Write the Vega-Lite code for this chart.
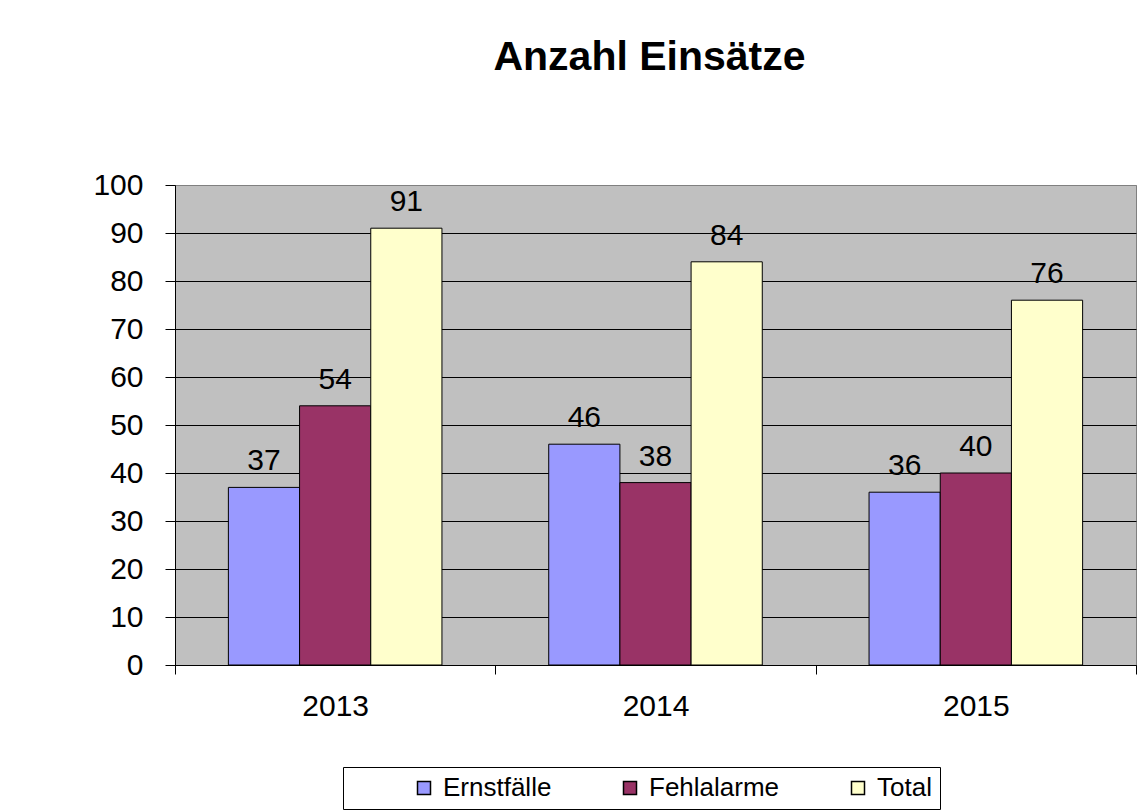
{
  "$schema": "https://vega.github.io/schema/vega-lite/v6.json",
  "autosize": {"type": "none"},
  "padding": {"left": 175, "top": 185, "right": 6, "bottom": 147},
  "width": 961,
  "height": 480,
  "background": "white",
  "title": {
    "text": "Anzahl Einsätze",
    "font": "Liberation Sans",
    "fontSize": 41,
    "fontWeight": "bold",
    "color": "black",
    "anchor": "middle",
    "frame": "group",
    "offset": 91,
    "dx": -6
  },
  "data": {
    "values": [
      {"Jahr": "2013", "Serie": "Ernstfälle", "Anzahl": 37},
      {"Jahr": "2013", "Serie": "Fehlalarme", "Anzahl": 54},
      {"Jahr": "2013", "Serie": "Total", "Anzahl": 91},
      {"Jahr": "2014", "Serie": "Ernstfälle", "Anzahl": 46},
      {"Jahr": "2014", "Serie": "Fehlalarme", "Anzahl": 38},
      {"Jahr": "2014", "Serie": "Total", "Anzahl": 84},
      {"Jahr": "2015", "Serie": "Ernstfälle", "Anzahl": 36},
      {"Jahr": "2015", "Serie": "Fehlalarme", "Anzahl": 40},
      {"Jahr": "2015", "Serie": "Total", "Anzahl": 76}
    ]
  },
  "encoding": {
    "x": {
      "field": "Jahr",
      "type": "nominal",
      "scale": {"paddingInner": 0, "paddingOuter": 0},
      "axis": {
        "title": null,
        "labelAngle": 0,
        "labelFont": "Liberation Sans",
        "labelFontSize": 30,
        "labelColor": "black",
        "labelPadding": 17,
        "tickBand": "extent",
        "tickColor": "black",
        "tickSize": 9,
        "domainColor": "black",
        "grid": false
      }
    },
    "xOffset": {
      "field": "Serie",
      "type": "nominal",
      "sort": ["Ernstfälle", "Fehlalarme", "Total"],
      "scale": {"paddingInner": 0, "paddingOuter": 0.75}
    },
    "y": {
      "field": "Anzahl",
      "type": "quantitative",
      "scale": {"domain": [0, 100], "nice": false},
      "axis": {
        "title": null,
        "values": [0, 10, 20, 30, 40, 50, 60, 70, 80, 90, 100],
        "labelFont": "Liberation Sans",
        "labelFontSize": 30,
        "labelColor": "black",
        "labelPadding": 22,
        "tickColor": "black",
        "tickSize": 10,
        "domainColor": "black",
        "grid": true,
        "gridColor": {"condition": {"test": "datum.value === 100", "value": "#808080"}, "value": "black"},
        "gridOpacity": 1,
        "gridWidth": 1
      }
    }
  },
  "layer": [
    {
      "mark": {"type": "bar", "stroke": "black", "strokeWidth": 1},
      "encoding": {
        "color": {
          "field": "Serie",
          "type": "nominal",
          "sort": ["Ernstfälle", "Fehlalarme", "Total"],
          "scale": {"domain": ["Ernstfälle", "Fehlalarme", "Total"], "range": ["#9999FF", "#993366", "#FFFFCC"]},
          "legend": {
            "title": null,
            "orient": "none",
            "direction": "horizontal",
            "legendX": 168,
            "legendY": 582,
            "symbolType": "square",
            "symbolSize": 169,
            "symbolOffset": 60,
            "symbolStrokeColor": "black",
            "symbolStrokeWidth": 1.5,
            "symbolOpacity": 1,
            "labelFont": "Liberation Sans",
            "labelFontSize": 26,
            "labelColor": "black",
            "labelOffset": 6,
            "columnPadding": 5,
            "strokeColor": "black",
            "fillColor": "white",
            "padding": 8
          }
        }
      }
    },
    {
      "mark": {
        "type": "text",
        "baseline": "alphabetic",
        "dy": -17,
        "font": "Liberation Sans",
        "fontSize": 30,
        "color": "black"
      },
      "encoding": {
        "text": {"field": "Anzahl", "type": "quantitative"}
      }
    }
  ],
  "config": {
    "view": {"fill": "#C0C0C0", "stroke": "#808080", "strokeWidth": 1}
  }
}
